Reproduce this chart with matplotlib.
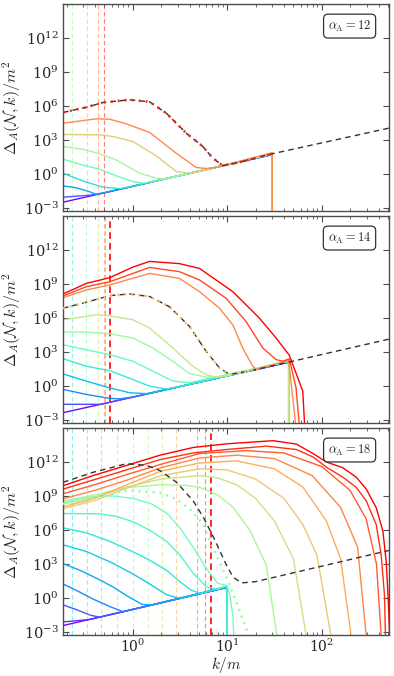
import numpy as np
import matplotlib
matplotlib.use('Agg')
import matplotlib.pyplot as plt
from matplotlib.ticker import NullLocator, LogLocator

plt.rcParams['mathtext.fontset'] = 'cm'
plt.rcParams['font.family'] = ['DejaVu Serif']

# ---------------- data (log10 k/m , log10 Delta_A/m^2) ----------------
# Panel alpha_A = 12  (curve 8 dotted)
P12_K = [
    [-0.736, 1.477, 1.477],
    [-0.736, -0.45, -0.313, 1.477, 1.477],
    [-0.736, -0.595, -0.454, -0.384, 1.477, 1.477],
    [-0.736, -0.525, -0.313, -0.12, 0.0, 1.477, 1.477],
    [-0.736, -0.525, -0.349, -0.173, 0.0035, 0.109, 0.25, 1.477, 1.477],
    [-0.736, -0.525, -0.349, -0.173, 0.074, 0.25, 0.356, 0.5, 1.477, 1.477],
    [-0.736, -0.349, -0.208, 0.0035, 0.25, 0.461, 0.6, 0.75, 1.477, 1.477],
    [-0.736, -0.384, -0.243, -0.067, 0.18, 0.461, 0.673, 0.778, 0.9, 1.477, 1.477],
    [-0.736, -0.489, -0.313, -0.032, 0.18, 0.356, 0.567, 0.743, 0.849, 0.954, 1.13, 1.477],
]
P12_Y = [
    [-2.47, 1.72, -5],
    [-2.03, -1.85, -1.67, 1.74, -5],
    [-1.03, -1.2, -1.55, -1.78, 1.75, -5],
    [0.09, -0.6, -1.15, -1.28, -1.06, 1.76, -5],
    [1.32, 0.8, 0.44, -0.15, -0.65, -0.79, -0.6, 1.78, -5],
    [2.44, 2.2, 1.8, 1.26, 0.09, -0.35, -0.4, -0.12, 1.8, -5],
    [3.5, 3.47, 3.32, 2.88, 1.62, 0.24, 0.08, 0.33, 1.83, -5],
    [4.5, 4.88, 4.85, 4.44, 3.68, 1.85, 0.59, 0.5, 0.62, 1.9, -5],
    [5.44, 5.9, 6.32, 6.56, 6.38, 5.38, 3.62, 2.44, 1.41, 0.76, 1.05, 1.8],
]
P12_C = [0.0, 0.12, 0.23, 0.34, 0.46, 0.58, 0.70, 0.82, 0.95]
P12_DOTTED = 8
P12_DASH_K = [-0.736, -0.489, -0.313, -0.032, 0.18, 0.356, 0.567, 0.743, 0.849, 0.954, 1.13, 1.477, 2.711]
P12_DASH_Y = [5.44, 5.9, 6.32, 6.56, 6.38, 5.38, 3.62, 2.44, 1.41, 0.76, 1.05, 1.8, 4.06]
P12_VK = [-0.644, -0.486, -0.37, -0.306]
P12_VC = [0.58, 0.72, 0.82, 0.95]

# Panel alpha_A = 14  (curve 8 dotted)
P14_K = [
    [-0.736, 1.651, 1.651],
    [-0.736, -0.338, 1.651, 1.651],
    [-0.736, -0.489, -0.243, -0.137, 0.0035, 1.651, 1.651],
    [-0.736, -0.489, -0.243, -0.032, 0.144, 0.25, 1.651, 1.651],
    [-0.736, -0.489, -0.243, 0.0035, 0.18, 0.356, 0.5, 1.651, 1.651],
    [-0.736, -0.489, -0.243, 0.0035, 0.25, 0.426, 0.602, 0.778, 1.651, 1.651],
    [-0.736, -0.489, -0.243, 0.0035, 0.215, 0.426, 0.602, 0.778, 0.919, 0.989, 1.651, 1.651],
    [-0.736, -0.384, -0.243, 0.0035, 0.18, 0.426, 0.637, 0.778, 0.884, 1.13, 1.651, 1.651],
    [-0.736, -0.489, -0.243, -0.032, 0.18, 0.39, 0.602, 0.778, 0.919, 1.025, 1.306],
    [-0.736, -0.489, -0.243, 0.18, 0.496, 0.708, 0.919, 1.06, 1.165, 1.271, 1.306, 1.651, 1.746],
    [-0.736, -0.489, -0.243, 0.18, 0.496, 0.708, 0.989, 1.2, 1.377, 1.518, 1.588, 1.658, 1.729, 1.78],
    [-0.736, -0.489, -0.243, 0.0035, 0.18, 0.496, 0.708, 1.06, 1.342, 1.518, 1.658, 1.80, 1.83],
]
P14_Y = [
    [-2.34, 2.1, -5],
    [-1.6, -1.6, 2.12, -5],
    [-0.29, -0.73, -1.08, -1.12, -0.96, 2.14, -5],
    [1.08, 0.44, -0.15, -0.58, -0.66, -0.51, 2.16, -5],
    [2.43, 1.75, 1.37, 0.58, 0.0, -0.25, -0.04, 2.18, -5],
    [3.65, 3.2, 2.78, 2.19, 1.17, 0.44, 0.3, 0.62, 2.2, -5],
    [4.77, 4.77, 4.62, 4.24, 3.36, 2.19, 1.11, 0.8, 0.8, 0.88, 2.22, -5],
    [5.85, 6.29, 6.2, 5.85, 5.12, 3.36, 1.75, 1.0, 0.8, 1.15, 2.3, -5],
    [6.87, 7.4, 7.98, 8.13, 7.9, 7.0, 5.26, 3.07, 1.61, 1.02, 1.46],
    [7.8, 8.48, 8.92, 9.94, 9.5, 8.33, 6.87, 5.4, 3.36, 1.75, 1.5, 2.25, -5],
    [7.95, 8.77, 9.2, 10.47, 10.09, 9.36, 7.75, 5.7, 3.36, 2.34, 2.2, 2.4, -0.15, -5],
    [8.13, 9.06, 9.56, 10.5, 11.0, 10.8, 10.38, 8.33, 5.99, 4.24, 2.72, -0.44, -5],
]
P14_C = [i / 11 for i in range(12)]
P14_DOTTED = 8
P14_DASH_K = [-0.736, -0.489, -0.243, -0.032, 0.18, 0.39, 0.602, 0.778, 0.919, 1.025, 1.306, 2.715]
P14_DASH_Y = [6.87, 7.4, 7.98, 8.13, 7.9, 7.0, 5.26, 3.07, 1.61, 1.02, 1.46, 4.15]
P14_VK = [-0.641, -0.489, -0.366, -0.306, -0.289, -0.236]
P14_VC = [0.4, 0.5, 0.65, 0.8, 0.85, 1.0]

# Panel alpha_A = 18  (curve 9 dotted)
P18_K = [
    [-0.736, 1.0, 1.0],
    [-0.736, -0.6, -0.45, 1.0, 1.0],
    [-0.736, -0.6, -0.45, -0.35, 1.0, 1.0],
    [-0.736, -0.59, -0.415, -0.24, -0.1, 1.0, 1.0],
    [-0.736, -0.556, -0.345, -0.2, -0.06, 0.1, 0.2, 1.0, 1.0],
    [-0.736, -0.486, -0.24, 0.0, 0.18, 0.36, 0.5, 1.0, 1.0],
    [-0.736, -0.486, -0.24, 0.0, 0.18, 0.36, 0.5, 0.62, 0.72, 1.0, 1.0],
    [-0.736, -0.35, -0.17, 0.0, 0.18, 0.36, 0.5, 0.64, 0.78, 0.9, 1.0, 1.0],
    [-0.736, -0.55, -0.35, -0.2, 0.0, 0.2, 0.36, 0.5, 0.64, 0.78, 0.9, 1.0, 1.03, 1.06, 1.08],
    [-0.736, -0.4, -0.06, 0.29, 0.47, 0.64, 0.75, 0.85, 0.99, 1.1, 1.22, 1.25],
    [-0.736, -0.4, -0.06, 0.3, 0.55, 0.711, 0.9, 1.063, 1.239, 1.415, 1.528],
    [-0.736, -0.4, -0.06, 0.3, 0.711, 0.9, 1.1, 1.3, 1.5, 1.7, 1.838],
    [-0.736, -0.4, -0.06, 0.3, 0.711, 1.0, 1.3, 1.6, 1.8, 1.95, 2.10],
    [-0.736, -0.4, -0.06, 0.3, 0.711, 1.1, 1.5, 1.8, 2.05, 2.2, 2.313],
    [-0.736, -0.4, -0.06, 0.3, 0.711, 1.1, 1.5, 1.9, 2.2, 2.38, 2.472],
    [-0.736, -0.4, -0.06, 0.3, 0.711, 1.2, 1.6, 2.0, 2.3, 2.47, 2.58, 2.63],
    [-0.736, -0.415, -0.063, 0.289, 0.641, 0.993, 1.416, 1.732, 1.908, 2.049, 2.225, 2.366, 2.472, 2.577, 2.63, 2.665, 2.675],
    [-0.736, -0.415, -0.063, 0.289, 0.641, 0.993, 1.486, 1.732, 1.908, 2.049, 2.225, 2.366, 2.472, 2.577, 2.648, 2.683, 2.704, 2.72],
]
P18_Y = [
    [-2.42, 0.93, -5],
    [-2.1, -2.0, -1.88, 0.95, -5],
    [-0.6, -1.0, -1.5, -1.68, 0.97, -5],
    [1.25, 0.66, -0.1, -0.75, -1.2, 0.99, -5],
    [3.04, 2.45, 1.6, 0.95, 0.2, -0.55, -0.62, 1.01, -5],
    [4.7, 4.1, 3.2, 2.15, 1.25, 0.3, -0.05, 1.03, -5],
    [6.2, 5.75, 5.0, 4.1, 3.35, 2.45, 1.45, 0.7, 0.4, 1.05, -5],
    [7.46, 7.43, 7.2, 6.75, 6.0, 5.0, 3.8, 2.2, 1.0, 0.75, 1.1, -5],
    [8.4, 8.8, 9.0, 9.0, 8.8, 8.3, 7.5, 6.2, 4.5, 2.6, 1.3, 1.1, 0.2, -1.5, -5],
    [8.3, 8.9, 9.5, 9.3, 8.7, 7.6, 6.4, 4.4, 1.9, -0.4, -3.1, -5],
    [8.55, 9.1, 9.75, 10.0, 9.95, 9.76, 9.1, 8.0, 6.0, 2.9, -3.4],
    [8.3, 8.9, 9.8, 10.5, 10.8, 10.6, 10.0, 8.8, 6.8, 3.5, -3.4],
    [7.9, 8.6, 9.7, 10.8, 11.4, 11.3, 10.5, 8.8, 6.5, 3.8, -3.4],
    [8.05, 8.8, 10.0, 11.2, 11.91, 12.1, 11.4, 9.8, 6.8, 3.5, -3.4],
    [8.75, 9.5, 10.4, 11.5, 12.36, 12.6, 12.3, 10.8, 8.0, 4.5, -3.4],
    [9.2, 10.0, 10.9, 11.8, 12.75, 13.0, 12.8, 11.6, 9.5, 7.0, 3.0, -3.4],
    [9.61, 10.42, 11.31, 12.21, 12.8, 13.1, 13.4, 13.1, 12.45, 11.55, 10.66, 9.76, 8.57, 6.48, 3.79, 0.2, -3.4],
    [9.91, 10.81, 11.7, 12.6, 13.28, 13.6, 13.88, 13.58, 12.75, 12.0, 11.49, 10.66, 9.61, 7.97, 5.88, 3.19, -0.09, -3.5],
]
P18_C = [i / 17 for i in range(18)]
P18_DOTTED = 9
P18_DASH_K = [-0.736, -0.415, -0.063, 0.148, 0.289, 0.465, 0.641, 0.75, 0.852, 0.993, 1.063, 1.151, 1.3, 2.711]
P18_DASH_Y = [10.21, 11.1, 11.85, 11.7, 11.25, 10.21, 8.57, 7.1, 5.43, 2.9, 1.85, 1.34, 1.45, 4.2]
P18_VK = [-0.637, -0.486, -0.338, -0.169, 0.0, 0.165, 0.313, 0.458, 0.683, 0.771, 0.824]
P18_VC = [0.35, 0.38, 0.41, 0.47, 0.53, 0.59, 0.66, 0.74, 0.85, 0.93, 1.0]

ALPHAS = ['12', '14', '18']
BOLD_LAST = [False, True, True]

# ---------------- plotting ----------------
cmap = plt.get_cmap('rainbow')
fig = plt.figure(figsize=(3.94, 6.76), dpi=100)
gs = fig.add_gridspec(3, 1, left=0.160, right=0.987, bottom=0.0607, top=0.994, hspace=0.024)

panels = [
    (P12_K, P12_Y, P12_C, P12_DOTTED, P12_DASH_K, P12_DASH_Y, P12_VK, P12_VC),
    (P14_K, P14_Y, P14_C, P14_DOTTED, P14_DASH_K, P14_DASH_Y, P14_VK, P14_VC),
    (P18_K, P18_Y, P18_C, P18_DOTTED, P18_DASH_K, P18_DASH_Y, P18_VK, P18_VC),
]
frame_col = '0.3'
for p, (K, Y, C, dot, dk, dy, vk, vc) in enumerate(panels):
    ax = fig.add_subplot(gs[p])
    n = len(K)
    for j, (xk, c) in enumerate(zip(vk, vc)):
        if BOLD_LAST[p] and j == len(vk) - 1:
            ax.axvline(10 ** xk, color=cmap(c), ls=(0, (4, 2.5)), lw=1.2, zorder=1)
        else:
            ax.axvline(10 ** xk, color=cmap(c), ls=(0, (4, 2.5)), lw=0.8, alpha=0.6, zorder=1)
    for i in range(n):
        if i == dot:
            continue
        ax.plot(10 ** np.array(K[i]), 10 ** np.array(Y[i]), color=cmap(C[i]), lw=1.0, zorder=2)
    ax.plot(10 ** np.array(dk), 10 ** np.array(dy), color='0.2', lw=1.0,
            ls=(0, (4, 3)), zorder=3)
    ax.plot(10 ** np.array(K[dot]), 10 ** np.array(Y[dot]), color=cmap(C[dot]),
            lw=1.8, ls=(0, (0.8, 2.0)), zorder=4)
    ax.set_xscale('log')
    ax.set_yscale('log')
    ax.set_xlim(10 ** -0.736, 10 ** 2.711)
    ax.set_ylim(10 ** -3.25, 10 ** 15)
    ax.set_yticks([1e-3, 1e0, 1e3, 1e6, 1e9, 1e12])
    ax.yaxis.set_minor_locator(NullLocator())
    ax.xaxis.set_major_locator(LogLocator(base=10, numticks=10))
    ax.xaxis.set_minor_locator(LogLocator(base=10, subs=np.arange(2, 10), numticks=10))
    ax.tick_params(which='both', direction='in', top=True, right=True,
                   color=frame_col, labelcolor='0.15', labelsize=10.5)
    ax.tick_params(which='major', length=4.5, width=0.8)
    ax.tick_params(which='minor', length=2.5, width=0.6)
    ax.tick_params(axis='x', pad=2.0, labelsize=10)
    ax.tick_params(axis='y', pad=3)
    for s in ax.spines.values():
        s.set_color(frame_col)
        s.set_linewidth(1.0)
    ax.set_ylabel(r'$\Delta_A(\mathcal{N},k)/m^2$', fontsize=11.5, color='0.15', labelpad=0.5)
    if p < 2:
        ax.tick_params(labelbottom=False)
    else:
        ax.set_xlabel(r'$k/m$', fontsize=11, color='0.15', labelpad=0.3)
    ax.text(0.946, 0.930, r'$\alpha_{\rm A} = %s$' % ALPHAS[p], transform=ax.transAxes,
            ha='right', va='top', fontsize=9, color='0.15', zorder=6,
            bbox=dict(boxstyle='round,pad=0.35', fc='white', ec='0.2', lw=0.9))

fig.savefig('out.png', dpi=100)
